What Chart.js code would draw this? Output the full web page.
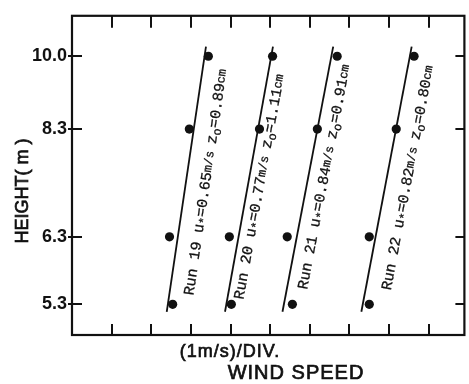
<!DOCTYPE html>
<html>
<head>
<meta charset="utf-8">
<script src="https://cdn.jsdelivr.net/npm/chart.js@4.4.1/dist/chart.umd.min.js"></script>
<style>
  html, body { margin: 0; padding: 0; background: #fff; }
  #wrap { width: 469px; height: 384px; }
</style>
</head>
<body>
<div id="wrap"><canvas id="profile"></canvas></div>
<script>
'use strict';
// measured heights (m) and wind speeds (1 m/s per division, arbitrary origin)
var heights = [10.0, 8.3, 6.3, 5.3];
var run19 = [3.44, 2.96, 2.46, 2.54];
var run20 = [5.06, 4.73, 3.97, 4.02];
var run21 = [6.69, 6.19, 5.43, 5.56];
var run22 = [8.63, 8.18, 7.50, 7.50];

// fitted log-profile lines, end points
var fitHeights = [5.2, 10.25];
var fit19 = [2.39, 3.38];
var fit20 = [3.86, 5.07];
var fit21 = [5.31, 6.59];
var fit22 = [7.30, 8.57];

var runNames = ['Run 19', 'Run 20', 'Run 21', 'Run 22'];
var uStar = ['0.65', '0.77', '0.84', '0.82'];
var zZero = ['0.89', '1.11', '0.91', '0.80'];

var heightTicks = [5.3, 6.3, 8.3, 10.0];
var heightLabels = ['5.3', '6.3', '8.3', '10.0'];
var speedTicks = [1, 2, 3, 4, 5, 6, 7, 8, 9];

// where each run label sits along its line (height) and its gap from the line (px)
var labelAt = [7.3, 7.2, 7.4, 7.4];
var labelGap = [20, 12, 16, 21];

var ink = '#111';
var runs = [run19, run20, run21, run22];
var fits = [fit19, fit20, fit21, fit22];

function pts (xs, ys) {
    return xs.map(function (x, i) { return { x: x, y: ys[i] }; });
}

var datasets = [];
for (let i = 0; i < runs.length; i++) {
    datasets.push({
        label: runNames[i] + ' fit',
        data: pts(fits[i], fitHeights),
        showLine: true,
        borderColor: ink,
        borderWidth: 1.8,
        pointRadius: 0,
        fill: false
    });
    datasets.push({
        label: runNames[i],
        data: pts(runs[i], heights),
        showLine: false,
        backgroundColor: ink,
        borderColor: ink,
        pointRadius: 4.6,
        pointBorderWidth: 0
    });
}

function heavyText (c, txt, x, y) {
    c.fillText(txt, x, y);
    c.strokeText(txt, x, y);
}

var decor = {
    id: 'decor',
    beforeDraw: function (chart) {
        var c = chart.ctx;
        c.save();
        c.fillStyle = '#fff';
        c.fillRect(0, 0, chart.width, chart.height);
        c.restore();
    },
    afterDraw: function (chart) {
        var c = chart.ctx, a = chart.chartArea;
        var xs = chart.scales.x, ys = chart.scales.y;
        c.save();
        c.strokeStyle = ink;
        c.lineWidth = 2.2;
        c.strokeRect(a.left, a.top, a.right - a.left, a.bottom - a.top);

        c.lineWidth = 2;
        c.beginPath();
        speedTicks.forEach(function (v) {
            var px = Math.round(xs.getPixelForValue(v));
            c.moveTo(px, a.top); c.lineTo(px, a.top + 12);
            c.moveTo(px, a.bottom); c.lineTo(px, a.bottom - 11);
        });
        heightTicks.forEach(function (v) {
            var py = Math.round(ys.getPixelForValue(v));
            c.moveTo(a.left - 4, py); c.lineTo(a.left + 10, py);
            c.moveTo(a.right, py); c.lineTo(a.right - 9, py);
        });
        c.stroke();

        // axis titles
        c.fillStyle = ink;
        c.lineWidth = 0.7;
        c.textBaseline = 'middle';
        c.textAlign = 'center';
        c.font = '18px "Liberation Sans", Arial, sans-serif';
        c.letterSpacing = '1px';
        heavyText(c, '(1m/s)/DIV.', 230, 352);
        c.font = '20px "Liberation Sans", Arial, sans-serif';
        heavyText(c, 'WIND SPEED', 296, 373);
        c.letterSpacing = '0px';
        c.save();
        c.translate(23, 191);
        c.rotate(-Math.PI / 2);
        c.font = '18px "Liberation Sans", Arial, sans-serif';
        heavyText(c, 'HEIGHT( m )', 0, 0);
        c.restore();

        // run labels along the fitted lines
        var main = '15px "Liberation Mono", "DejaVu Sans Mono", monospace';
        var small = '12px "Liberation Mono", "DejaVu Sans Mono", monospace';
        var unit = '12px "Liberation Mono", "DejaVu Sans Mono", monospace';
        c.lineWidth = 0.3;
        for (let i = 0; i < fits.length; i++) {
            var f = fits[i];
            var x0 = xs.getPixelForValue(f[0]), y0 = ys.getPixelForValue(fitHeights[0]);
            var x1 = xs.getPixelForValue(f[1]), y1 = ys.getPixelForValue(fitHeights[1]);
            var ya = ys.getPixelForValue(labelAt[i]);
            var t = (ya - y0) / (y1 - y0);
            var xa = x0 + t * (x1 - x0);
            var ang = Math.atan2(y1 - y0, x1 - x0);
            var parts = [
                [runNames[i] + ' ', main, 0],
                ['u', main, 0], ['*', small, 4],
                ['=' + uStar[i], main, 0], ['m/s ', unit, 0],
                ['z', main, 0], ['o', small, 4],
                ['=' + zZero[i], main, 0], ['cm', unit, 0]
            ];
            var total = 0;
            parts.forEach(function (p) { c.font = p[1]; total += c.measureText(p[0]).width; });
            c.save();
            c.translate(xa, ya);
            c.rotate(ang);
            c.textAlign = 'left';
            c.textBaseline = 'middle';
            var cx = -total / 2;
            parts.forEach(function (p) {
                c.font = p[1];
                heavyText(c, p[0], cx, labelGap[i] + p[2]);
                cx += c.measureText(p[0]).width;
            });
            c.restore();
        }
        c.restore();
    }
};

var profileChart = new Chart(document.getElementById('profile'), {
    type: 'scatter',
    data: { datasets: datasets },
    options: {
        responsive: true,
        maintainAspectRatio: false,
        animation: false,
        events: [],
        layout: { padding: { top: 14, right: 4, left: 0, bottom: 0 } },
        plugins: { legend: { display: false }, tooltip: { enabled: false } },
        scales: {
            x: {
                type: 'linear',
                min: 0,
                max: 9.9,
                grid: { display: false, drawTicks: false },
                border: { display: false },
                ticks: { display: false },
                afterFit: function (s) { s.height = 49; }
            },
            y: {
                type: 'logarithmic',
                min: 4.94,
                max: 11.09,
                grid: { display: false, drawTicks: false },
                border: { display: false },
                afterBuildTicks: function (s) {
                    s.ticks = heightTicks.map(function (v) { return { value: v }; });
                },
                ticks: {
                    color: ink,
                    padding: 5,
                    font: { family: '"Liberation Sans", Arial, sans-serif', size: 18, weight: 'bold' },
                    callback: function (v) {
                        var k = heightTicks.indexOf(v);
                        return k < 0 ? '' : heightLabels[k];
                    }
                },
                afterFit: function (s) { s.width = 72; }
            }
        }
    },
    plugins: [decor]
});
</script>
</body>
</html>
